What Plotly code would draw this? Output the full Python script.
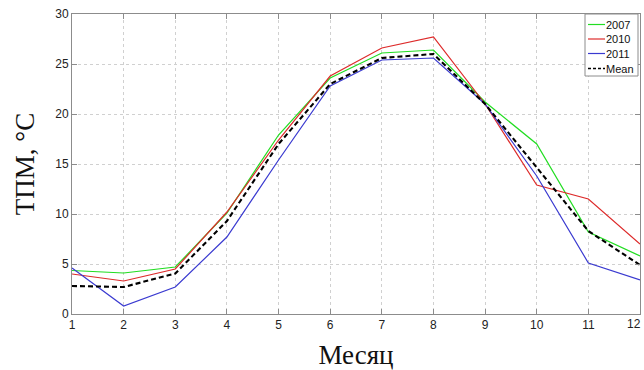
import plotly.graph_objects as go

# Monthly surface temperature (°C) by year
months = list(range(1, 13))
t2007 = [4.35, 4.1, 4.7, 10.1, 17.9, 23.6, 26.1, 26.4, 21.2, 17.0, 8.2, 5.8]
t2010 = [4.0, 3.3, 4.5, 10.2, 17.4, 23.8, 26.6, 27.7, 21.0, 12.9, 11.5, 7.0]
t2011 = [4.6, 0.8, 2.7, 7.7, 15.4, 22.8, 25.4, 25.6, 21.0, 13.8, 5.1, 3.4]
t_mean = [2.8, 2.7, 4.05, 9.3, 17.0, 23.0, 25.6, 26.0, 21.0, 14.6, 8.3, 4.9]

x_ticks = list(range(1, 12))
y_ticks = [0, 5, 10, 15, 20, 25, 30]

series = [
    ("2007", t2007, dict(color="#22dd22", width=1.2)),
    ("2010", t2010, dict(color="#dd2a2a", width=1.2)),
    ("2011", t2011, dict(color="#3a3ad0", width=1.2)),
    ("Mean", t_mean, dict(color="#000000", width=2.1, dash="5px,3px")),
]

W, H = 644, 370
L, R, T, B = 72, 4, 14, 56
PW, PH = W - L - R, H - T - B

def px_x(p):
    return (p - L) / PW

def px_y(p):
    return (H - B - p) / PH

fig = go.Figure()
for name, vals, line in series:
    fig.add_trace(go.Scatter(x=months, y=vals, mode="lines", name=name,
                             line=line, showlegend=False))

tick_font = dict(family="Liberation Sans, Arial", size=12, color="#222222")
legend_font = dict(family="Liberation Sans, Arial", size=11, color="#111111")
title_font = dict(family="Liberation Serif, Times New Roman", size=27, color="#111111")

axis_common = dict(
    showline=True, linecolor="#8c8c8c", linewidth=1, mirror="ticks",
    ticks="inside", ticklen=5, tickcolor="#8c8c8c",
    showgrid=True, gridcolor="#d0d0d0", griddash="dot", gridwidth=1,
    zeroline=False, tickfont=tick_font,
)

fig.update_layout(
    width=W, height=H,
    margin=dict(l=L, r=R, t=T, b=B),
    paper_bgcolor="white", plot_bgcolor="white",
    xaxis=dict(range=[1, 12], tickvals=list(range(1, 13)),
               ticktext=[str(m) for m in x_ticks] + [""], **axis_common,
               title=dict(text="Месяц", standoff=14, font=title_font)),
    yaxis=dict(range=[0, 30], tickvals=y_ticks, **axis_common,
               title=dict(text="ТПМ, °C", standoff=12, font=title_font)),
    showlegend=False,
)

# last x tick label, kept inside the page edge
fig.add_annotation(x=1, y=0, xref="paper", yref="paper", xanchor="right",
                   yanchor="top", xshift=3, yshift=-1, text="12",
                   showarrow=False, font=tick_font)

# boxed legend in the upper-right corner
box_x0, box_x1, box_y0, box_y1 = 585, 638, 14, 76
fig.add_shape(type="rect", xref="paper", yref="paper",
              x0=px_x(box_x0), x1=px_x(box_x1), y0=px_y(box_y1), y1=px_y(box_y0),
              line=dict(color="#8c8c8c", width=1), fillcolor="white", layer="above")
row_y = [24.5, 39, 53.5, 68.5]
for (name, _, line), ry in zip(series, row_y):
    fig.add_shape(type="line", xref="paper", yref="paper",
                  x0=px_x(588), x1=px_x(605), y0=px_y(ry), y1=px_y(ry),
                  line=dict(color=line["color"], width=min(line["width"], 1.6),
                            dash="3px,2px" if "dash" in line else "solid"),
                  layer="above")
    fig.add_annotation(x=px_x(605), y=px_y(ry), xref="paper", yref="paper",
                       xanchor="left", yanchor="middle", xshift=-1, text=name,
                       showarrow=False, font=legend_font)

fig.write_html("out.html")
